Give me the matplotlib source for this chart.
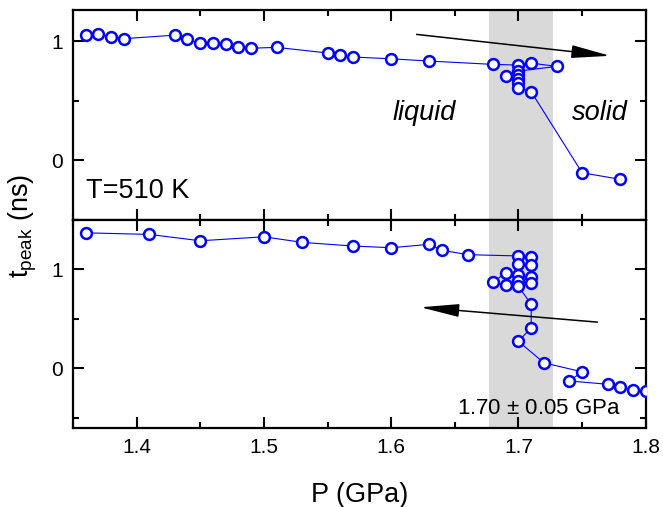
import numpy as np
import matplotlib
matplotlib.use('Agg')
import matplotlib.pyplot as plt
from matplotlib.ticker import MultipleLocator

plt.rcParams['font.family'] = ['Liberation Sans', 'DejaVu Sans']
plt.rcParams['mathtext.fontset'] = 'custom'
plt.rcParams['mathtext.rm'] = 'Liberation Sans'
plt.rcParams['mathtext.it'] = 'Liberation Sans:italic'

# compression run (upper panel)
p_up = [1.36, 1.37, 1.38, 1.39, 1.43, 1.44, 1.45, 1.46, 1.47, 1.48, 1.49, 1.51,
        1.55, 1.56, 1.57, 1.60, 1.63, 1.68, 1.70, 1.71, 1.73, 1.70, 1.69, 1.70,
        1.70, 1.70, 1.70, 1.71, 1.75, 1.78]
t_up = [1.05, 1.056, 1.036, 1.02, 1.05, 1.014, 0.98, 0.986, 0.975, 0.952, 0.94, 0.947,
        0.90, 0.88, 0.866, 0.851, 0.832, 0.804, 0.798, 0.815, 0.787, 0.748, 0.703, 0.714,
        0.678, 0.645, 0.607, 0.574, -0.107, -0.162]

# decompression run (lower panel)
p_down = [1.36, 1.41, 1.45, 1.50, 1.53, 1.57, 1.60, 1.63, 1.64, 1.66, 1.70, 1.71,
          1.71, 1.70, 1.70, 1.69, 1.68, 1.69, 1.70, 1.71, 1.71, 1.70, 1.71, 1.71,
          1.70, 1.72, 1.75, 1.74, 1.77, 1.78, 1.79, 1.80]
t_down = [1.366, 1.35, 1.286, 1.326, 1.27, 1.233, 1.216, 1.25, 1.19, 1.146, 1.133, 1.123,
          1.04, 1.056, 0.94, 0.966, 0.866, 0.843, 0.876, 0.923, 0.856, 0.826, 0.646, 0.41,
          0.272, 0.056, -0.035, -0.127, -0.16, -0.19, -0.218, -0.228]

band = (1.677, 1.727)

fig = plt.figure(figsize=(6.63, 5.07), dpi=100)
ax1 = fig.add_axes([0.110, 0.567, 0.864, 0.413])
ax2 = fig.add_axes([0.110, 0.156, 0.864, 0.411], sharex=ax1)

for ax, p, t in ((ax1, p_up, t_up), (ax2, p_down, t_down)):
    ax.axvspan(band[0], band[1], color='#d9d9d9', lw=0, zorder=0)
    ax.plot(p, t, '-o', color='#0000ff', lw=0.8, ms=7.8, mew=1.8,
            mfc='white', mec='#0000ff', zorder=3)
    ax.xaxis.set_major_locator(MultipleLocator(0.1))
    ax.xaxis.set_minor_locator(MultipleLocator(0.05))
    ax.yaxis.set_major_locator(MultipleLocator(1))
    ax.yaxis.set_minor_locator(MultipleLocator(0.5))
    ax.tick_params(which='both', direction='in', top=True, right=True,
                   width=1.5, labelsize=15)
    ax.tick_params(which='major', length=8, pad=7)
    ax.tick_params(which='minor', length=4.2)
    for s in ax.spines.values():
        s.set_linewidth(1.6)

ax1.set_xlim(1.35, 1.8)
ax1.set_ylim(-0.5, 1.26)
ax2.set_ylim(-0.6, 1.5)
ax1.tick_params(labelbottom=False)
ax2.xaxis.set_major_formatter(plt.FuncFormatter(lambda v, _: f'{v:.1f}'))
ax1.yaxis.set_major_formatter(plt.FuncFormatter(lambda v, _: f'{v:.0f}'))
ax2.yaxis.set_major_formatter(plt.FuncFormatter(lambda v, _: f'{v:.0f}'))

arrow = dict(arrowstyle='-|>,head_length=1.2,head_width=0.2', color='black',
             lw=1.1, mutation_scale=20, shrinkA=0, shrinkB=0)
ax1.annotate('', xy=(1.772, 0.876), xytext=(1.62, 1.056), arrowprops=arrow)
ax2.annotate('', xy=(1.623, 0.616), xytext=(1.762, 0.466), arrowprops=arrow)

ax1.text(1.36, -0.32, 'T=510 K', fontsize=19.5, ha='left', va='baseline')
ax1.text(1.626, 0.336, 'liquid', fontsize=19.5, style='italic', ha='center', va='baseline')
ax1.text(1.764, 0.336, 'solid', fontsize=19.5, style='italic', ha='center', va='baseline')
ax2.text(1.716, -0.46, r'1.70 $\pm$ 0.05 GPa', fontsize=16, ha='center', va='baseline')

ax2.set_xlabel('P (GPa)', fontsize=19.5, labelpad=18)
fig.text(0.035, 0.555, r'$\mathregular{t_{peak}}$ (ns)', fontsize=19.5,
         rotation=90, ha='center', va='center')

fig.savefig('out.png', dpi=100)
